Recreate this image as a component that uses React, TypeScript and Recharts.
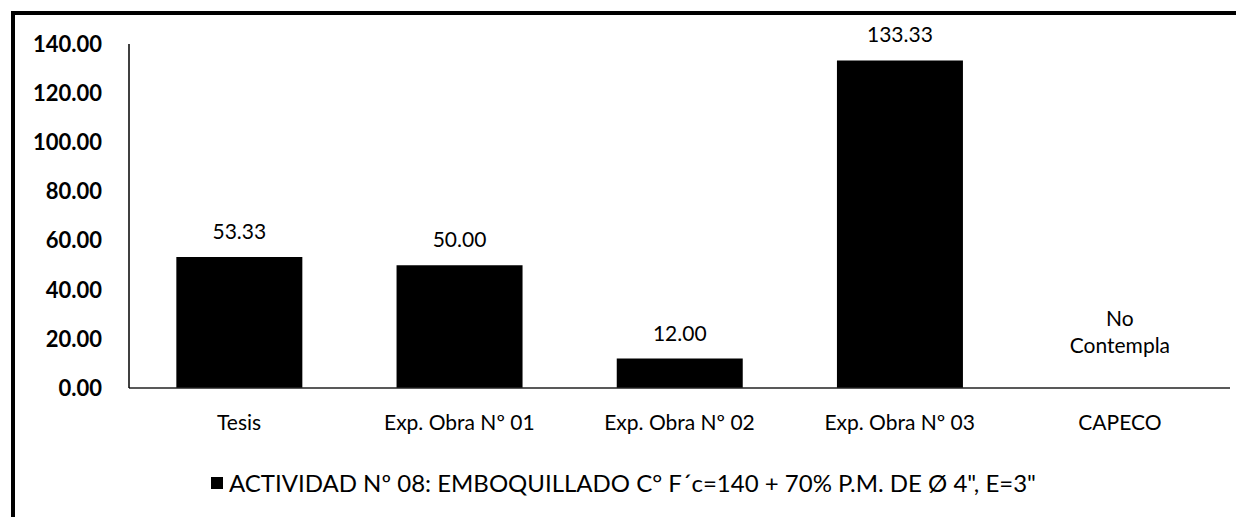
import { Bar, BarChart, LabelList, ReferenceDot, XAxis, YAxis } from "recharts"

const categories = ["Tesis", "Exp. Obra Nº 01", "Exp. Obra Nº 02", "Exp. Obra Nº 03", "CAPECO"]
const values: Array<number | null> = [53.33, 50.0, 12.0, 133.33, null]
const yTicks = [0, 20, 40, 60, 80, 100, 120, 140]
const missingNote = ["No", "Contempla"]
const seriesName = "ACTIVIDAD Nº 08: EMBOQUILLADO C° F´c=140 + 70% P.M. DE Ø 4\", E=3\""

const data = categories.map((name, i) => ({ name, value: values[i] }))

const FONT = "Lato, 'Open Sans', sans-serif"

function ValueLabel(props: any) {
  const { x, y, width, value } = props
  if (value == null) return null
  const cx = x + width / 2
  return (
    <text x={cx} y={y - 18} textAnchor="middle" fontFamily={FONT} fontSize={21} fill="#000">
      {Number(value).toFixed(2)}
    </text>
  )
}

function MissingLabel(props: any) {
  const { viewBox } = props
  const cx = viewBox.x + (viewBox.width || 0) / 2
  const y = viewBox.y
  return (
    <text x={cx} textAnchor="middle" fontFamily={FONT} fontSize={21} fill="#000">
      <tspan x={cx} y={y - 62}>{missingNote[0]}</tspan>
      <tspan x={cx} y={y - 35}>{missingNote[1]}</tspan>
    </text>
  )
}

export default function App() {
  return (
    <div style={{ position: "absolute", left: 0, top: 0, width: 1236, height: 517, overflow: "hidden", background: "#fff" }}>
      <div style={{ position: "absolute", left: 11, top: 11, width: 1400, height: 700, border: "4px solid #000" }} />
      <div style={{ position: "absolute", left: 0, top: 0 }}>
        <BarChart
          width={1236}
          height={517}
          data={data}
          margin={{ top: 44, right: 6, left: 0, bottom: 99 }}
          barCategoryGap="21.5%"
        >
          <XAxis
            dataKey="name"
            height={30}
            stroke="#222"
            strokeWidth={1.5}
            tickLine={false}
            tickSize={0}
            tickMargin={27}
            tick={{ fill: "#000", fontFamily: FONT, fontSize: 21 }}
          />
          <YAxis
            width={129}
            domain={[0, 140]}
            ticks={yTicks}
            interval={0}
            stroke="#000"
            strokeWidth={1.5}
            tickLine={false}
            tickSize={0}
            tickMargin={27}
            tickFormatter={(v: number) => v.toFixed(2)}
            tick={{ fill: "#000", fontFamily: FONT, fontSize: 22, fontWeight: 700 }}
          />
          <Bar dataKey="value" name={seriesName} fill="#000" isAnimationActive={false}>
            <LabelList dataKey="value" content={<ValueLabel />} />
          </Bar>
          <ReferenceDot x="CAPECO" y={0} r={0} fill="none" stroke="none" label={<MissingLabel />} />
        </BarChart>
      </div>
      <div
        style={{
          position: "absolute",
          left: 211,
          top: 468,
          display: "flex",
          alignItems: "center",
          fontFamily: FONT,
          fontSize: 24,
          color: "#000",
          whiteSpace: "nowrap",
        }}
      >
        <span style={{ width: 12, height: 12, background: "#000", marginRight: 6, display: "inline-block" }} />
        <span>{seriesName}</span>
      </div>
    </div>
  )
}
